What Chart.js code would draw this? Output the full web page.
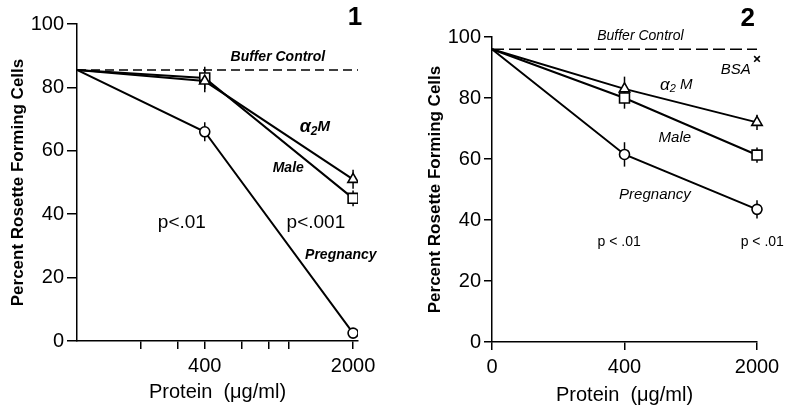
<!DOCTYPE html>
<html>
<head>
<meta charset="utf-8">
<script src="https://cdn.jsdelivr.net/npm/chart.js@4.4.0/dist/chart.umd.min.js"></script>
<style>
  body { margin: 0; background: #fff; }
  #wrap { position: relative; width: 785px; height: 409px; }
  canvas { position: absolute; top: 0; }
</style>
</head>
<body>
<div id="wrap">
  <canvas id="panel1" width="392" height="409" style="left:0"></canvas>
  <canvas id="panel2" width="393" height="409" style="left:392px"></canvas>
</div>
<script>
// ---- panel 1 data (log dose axis, control sits at the axis origin) ----
const doses1 = [100, 400, 2000];
const xTicks1 = [200, 300, 400, 600, 800, 1000, 2000];
const xLabels1 = [400, 2000];
const xMax1 = 2110;
const buffer1 = 85.5;
const alpha1 = [85.5, 82, 51];
const male1 = [85.5, 83, 45];
const preg1 = [85.5, 66, 2.5];
const alphaErr1 = [0, 3.5, 3];
const maleErr1 = [0, 3.5, 2.5];
const pregErr1 = [0, 3, 1.5];

// ---- panel 2 data ----
const doses2 = ['0', '400', '2000'];
const buffer2 = [96, 96, 96];
const bsa2 = [null, null, 92.8];
const alpha2 = [96, 83, 72];
const male2 = [96, 80, 61.3];
const preg2 = [96, 61.5, 43.5];
const alphaErr2 = [0, 4, 2.5];
const maleErr2 = [0, 3.5, 2.5];
const pregErr2 = [0, 4, 3];

const yTicks = [0, 20, 40, 60, 80, 100];

Chart.defaults.font.family = '"Liberation Sans", Arial, sans-serif';
Chart.defaults.color = '#000';
Chart.defaults.animation = false;

// vertical error bars under the markers
const errorBars = {
  id: 'errorBars',
  beforeDatasetsDraw(chart) {
    const ctx = chart.ctx, y = chart.scales.y;
    ctx.save();
    ctx.strokeStyle = '#000';
    ctx.lineWidth = 1.5;
    chart.data.datasets.forEach((ds, di) => {
      if (!ds.err) return;
      chart.getDatasetMeta(di).data.forEach((pt, i) => {
        const e = ds.err[i];
        if (!e) return;
        const d = ds.data[i];
        const v = (d && typeof d === 'object') ? d.y : d;
        ctx.beginPath();
        ctx.moveTo(pt.x, y.getPixelForValue(v + e));
        ctx.lineTo(pt.x, y.getPixelForValue(v - e));
        ctx.stroke();
      });
    });
    ctx.restore();
  }
};

// text labels placed in data coordinates
function notes(items) {
  return {
    id: 'notes',
    afterDraw(chart) {
      const ctx = chart.ctx, xs = chart.scales.x, ys = chart.scales.y;
      ctx.save();
      ctx.fillStyle = '#000';
      ctx.textBaseline = 'middle';
      ctx.textAlign = 'left';
      items.forEach(n => {
        const cx = xs.getPixelForValue(n.x), cy = ys.getPixelForValue(n.y);
        const parts = n.parts || [{ t: n.text, font: n.font }];
        let w = 0;
        parts.forEach(p => { ctx.font = p.font; w += ctx.measureText(p.t).width; });
        let px = cx - w / 2;
        parts.forEach(p => {
          ctx.font = p.font;
          ctx.fillText(p.t, px, cy + (p.dy || 0));
          px += ctx.measureText(p.t).width;
        });
      });
      ctx.restore();
    }
  };
}

const FF = '"Liberation Sans", Arial, sans-serif';

function series(label, data, style, err, radius) {
  return {
    label, data, err,
    borderColor: '#000', borderWidth: 2,
    pointStyle: style, pointRadius: [0, radius, radius],
    pointBackgroundColor: '#fff', pointBorderColor: '#000', pointBorderWidth: 1.6,
    tension: 0
  };
}

function yAxis(width, titlePad, tickLen) {
  return {
    min: 0, max: 100,
    afterBuildTicks: s => { s.ticks = yTicks.map(v => ({ value: v })); },
    afterFit: s => { s.width = width; },
    ticks: { font: { size: 20 }, color: '#000', padding: 3 },
    grid: { drawOnChartArea: false, tickLength: tickLen, color: '#000', lineWidth: 1.5 },
    border: { color: '#000', width: 1.5 },
    title: { display: true, text: 'Percent Rosette Forming Cells', color: '#000',
             font: { size: 17, weight: 'bold' }, padding: { top: titlePad, bottom: 0 } }
  };
}

// ---------------- panel 1 ----------------
new Chart(document.getElementById('panel1'), {
  type: 'line',
  data: {
    datasets: [
      {
        label: 'Buffer Control',
        data: [{ x: doses1[0], y: buffer1 }, { x: xMax1, y: buffer1 }],
        borderColor: '#000', borderWidth: 1.5, borderDash: [9, 5], pointRadius: 0
      },
      series('α2M', alpha1.map((v, i) => ({ x: doses1[i], y: v })), 'triangle', alphaErr1, 6),
      series('Male', male1.map((v, i) => ({ x: doses1[i], y: v })), 'rect', maleErr1, 7),
      series('Pregnancy', preg1.map((v, i) => ({ x: doses1[i], y: v })), 'circle', pregErr1, 5)
    ]
  },
  options: {
    responsive: false,
    layout: { padding: { left: 0, right: 34, top: 24, bottom: 0 } },
    plugins: { legend: { display: false }, tooltip: { enabled: false } },
    scales: {
      x: {
        type: 'logarithmic', min: doses1[0], max: xMax1,
        afterBuildTicks: s => { s.ticks = xTicks1.map(v => ({ value: v })); },
        afterFit: s => { s.height = 68; },
        ticks: { autoSkip: false, maxRotation: 0, font: { size: 20 }, color: '#000', padding: 5,
                 callback: v => xLabels1.includes(v) ? String(v) : '' },
        grid: { drawOnChartArea: false, tickLength: 8, color: '#000', lineWidth: 1.5 },
        border: { color: '#000', width: 1.5 },
        title: { display: true, text: 'Protein  (μg/ml)', color: '#000',
                 font: { size: 20 }, padding: { top: 0, bottom: 5 } }
      },
      y: yAxis(77, 8, 10)
    }
  },
  plugins: [errorBars, notes([
    { x: 885, y: 89.6, text: 'Buffer Control', font: 'italic bold 14px ' + FF },
    { x: 1321, y: 67.5, parts: [
      { t: 'α', font: 'italic bold 18px ' + FF },
      { t: '2', font: 'italic bold 12px ' + FF, dy: 5 },
      { t: 'M', font: 'italic bold 15px ' + FF }] },
    { x: 990, y: 54.6, text: 'Male', font: 'italic bold 14px ' + FF },
    { x: 312, y: 37.2, text: 'p<.01', font: '19px ' + FF },
    { x: 1336, y: 37.2, text: 'p<.001', font: '19px ' + FF },
    { x: 1752, y: 27.1, text: 'Pregnancy', font: 'italic bold 14px ' + FF },
    { x: 2040, y: 102, text: '1', font: 'bold 26px ' + FF }
  ])]
});

// ---------------- panel 2 ----------------
new Chart(document.getElementById('panel2'), {
  type: 'line',
  data: {
    labels: doses2,
    datasets: [
      {
        label: 'Buffer Control', data: buffer2,
        borderColor: '#000', borderWidth: 1.5, borderDash: [12, 5], pointRadius: 0
      },
      {
        label: 'BSA', data: bsa2, showLine: false,
        pointStyle: 'crossRot', pointRadius: 4, pointBorderColor: '#000', pointBorderWidth: 1.6
      },
      series('α2M', alpha2, 'triangle', alphaErr2, 6),
      series('Male', male2, 'rect', maleErr2, 7),
      series('Pregnancy', preg2, 'circle', pregErr2, 5)
    ]
  },
  options: {
    responsive: false,
    layout: { padding: { left: 0, right: 28, top: 37, bottom: 0 } },
    plugins: { legend: { display: false }, tooltip: { enabled: false } },
    scales: {
      x: {
        offset: false,
        afterFit: s => { s.height = 67; },
        ticks: { autoSkip: false, maxRotation: 0, font: { size: 20 }, color: '#000', padding: 5 },
        grid: { drawOnChartArea: false, tickLength: 8, color: '#000', lineWidth: 1.5, offset: false },
        border: { color: '#000', width: 1.5 },
        title: { display: true, text: 'Protein  (μg/ml)', color: '#000',
                 font: { size: 20 }, padding: { top: 0, bottom: 2 } }
      },
      y: yAxis(100, 33, 8)
    }
  },
  plugins: [errorBars, notes([
    { x: 1.12, y: 100.3, text: 'Buffer Control', font: 'italic 14px ' + FF },
    { x: 1.84, y: 89.2, text: 'BSA', font: 'italic 15px ' + FF },
    { x: 1.39, y: 84.3, parts: [
      { t: 'α', font: 'italic 17px ' + FF },
      { t: '2', font: 'italic 11px ' + FF, dy: 4 },
      { t: ' M', font: 'italic 15px ' + FF }] },
    { x: 1.38, y: 66.9, text: 'Male', font: 'italic 15px ' + FF },
    { x: 1.23, y: 48.2, text: 'Pregnancy', font: 'italic 15px ' + FF },
    { x: 0.96, y: 32.8, text: 'p < .01', font: '14px ' + FF },
    { x: 2.04, y: 32.8, text: 'p < .01', font: '14px ' + FF },
    { x: 1.93, y: 106, text: '2', font: 'bold 26px ' + FF }
  ])]
});
</script>
</body>
</html>
